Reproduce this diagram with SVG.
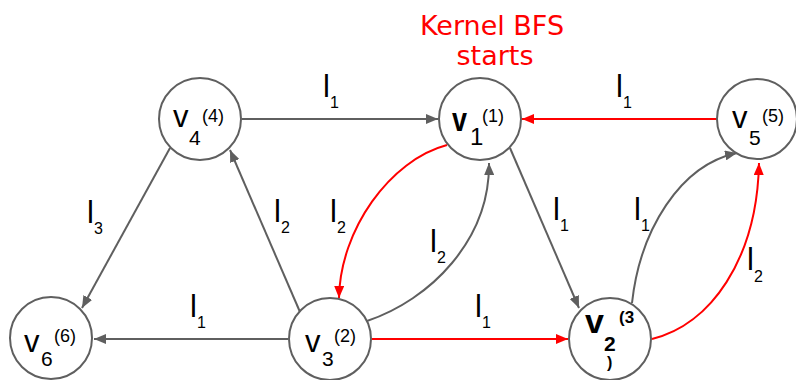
<svg xmlns="http://www.w3.org/2000/svg" width="796" height="380" viewBox="0 0 796 380">
<style>
.n{fill:#fff;stroke:#5f5f5f;stroke-width:2}
.g{fill:none;stroke:#5f5f5f;stroke-width:2}
.r{fill:none;stroke:#ff0000;stroke-width:2}
.t{font-family:"Liberation Sans",Arial,sans-serif;fill:#000}
.lb{font-family:"Liberation Sans",Arial,sans-serif;font-size:31px;fill:#000}
.ttl{font-family:"DejaVu Sans","Liberation Sans",sans-serif;font-size:27px;fill:#ff0000}
</style>
<defs>
<marker id="ag" markerUnits="userSpaceOnUse" markerWidth="12" markerHeight="10" refX="12" refY="5" orient="auto"><path d="M0,0 L12,5 L0,10 z" fill="#5f5f5f"/></marker>
<marker id="ar" markerUnits="userSpaceOnUse" markerWidth="12" markerHeight="10" refX="12" refY="5" orient="auto"><path d="M0,0 L12,5 L0,10 z" fill="#ff0000"/></marker>
</defs>
<g id="connectors">
<path class="g" d="M242,119 L438,119" marker-end="url(#ag)"/>
<path class="r" d="M717,119 L522,119" marker-end="url(#ar)"/>
<path class="r" d="M447,145 C390,160 340,230 339,298" marker-end="url(#ar)"/>
<path class="g" d="M367,321 C430,300 490,240 489,163" marker-end="url(#ag)"/>
<path class="g" d="M510,148 L579,308" marker-end="url(#ag)"/>
<path class="g" d="M632,303 C640,230 680,165 737,153" marker-end="url(#ag)"/>
<path class="r" d="M652,339 C710,325 757,260 759,163" marker-end="url(#ar)"/>
<path class="g" d="M170,148 L82,308" marker-end="url(#ag)"/>
<path class="g" d="M300,312 L230,150" marker-end="url(#ag)"/>
<path class="g" d="M288,339 L94,339" marker-end="url(#ag)"/>
<path class="r" d="M372,339 L568,339" marker-end="url(#ar)"/>
</g>
<g id="edge-labels">
<text class="lb" x="323" y="97">l<tspan font-size="16" dy="11">1</tspan></text>
<text class="lb" x="616" y="97">l<tspan font-size="16" dy="11">1</tspan></text>
<text class="lb" x="330" y="222">l<tspan font-size="16" dy="11">2</tspan></text>
<text class="lb" x="430" y="252">l<tspan font-size="16" dy="11">2</tspan></text>
<text class="lb" x="553" y="220">l<tspan font-size="16" dy="11">1</tspan></text>
<text class="lb" x="634" y="220">l<tspan font-size="16" dy="11">1</tspan></text>
<text class="lb" x="747" y="270">l<tspan font-size="16" dy="12">2</tspan></text>
<text class="lb" x="87" y="223">l<tspan font-size="16" dy="11">3</tspan></text>
<text class="lb" x="274" y="222">l<tspan font-size="16" dy="11">2</tspan></text>
<text class="lb" x="190" y="317">l<tspan font-size="16" dy="11">1</tspan></text>
<text class="lb" x="475" y="317">l<tspan font-size="16" dy="11">1</tspan></text>
</g>
<g id="title">
<text class="ttl" x="492" y="35" text-anchor="middle">Kernel BFS</text>
<text class="ttl" x="495" y="65" text-anchor="middle">starts</text>
</g>
<g id="v4">
<circle class="n" cx="200" cy="119" r="41"/>
<text class="t" x="173" y="127" font-size="31">v</text>
<text class="t" x="189" y="145" font-size="21">4</text>
<text class="t" x="202" y="122" font-size="18">(4)</text>
</g>
<g id="v1">
<circle class="n" cx="480" cy="119" r="41"/>
<text class="t" x="452" y="131" font-size="34" font-weight="bold" textLength="15" lengthAdjust="spacingAndGlyphs">v</text>
<text class="t" x="470" y="145" font-size="24">1</text>
<text class="t" x="482" y="122" font-size="18">(1)</text>
</g>
<g id="v5">
<circle class="n" cx="757" cy="119" r="40"/>
<text class="t" x="732" y="128" font-size="31">v</text>
<text class="t" x="749" y="145" font-size="21">5</text>
<text class="t" x="762" y="122" font-size="18">(5)</text>
</g>
<g id="v6">
<circle class="n" cx="51" cy="338" r="41"/>
<text class="t" x="24" y="352" font-size="31">v</text>
<text class="t" x="41" y="366" font-size="21">6</text>
<text class="t" x="54" y="342" font-size="18">(6)</text>
</g>
<g id="v3">
<circle class="n" cx="330" cy="339" r="41"/>
<text class="t" x="305" y="352" font-size="31">v</text>
<text class="t" x="322" y="366" font-size="21">3</text>
<text class="t" x="334" y="342" font-size="18">(2)</text>
</g>
<g id="v2">
<circle class="n" cx="610" cy="339" r="41"/>
<text class="t" x="585" y="333" font-size="34" font-weight="bold">v</text>
<text class="t" x="604" y="351" font-size="21" font-weight="bold">2</text>
<text class="t" x="619" y="323" font-size="17" font-weight="bold">(3</text>
<text class="t" x="607" y="368" font-size="16" font-weight="bold">)</text>
</g>
</svg>
